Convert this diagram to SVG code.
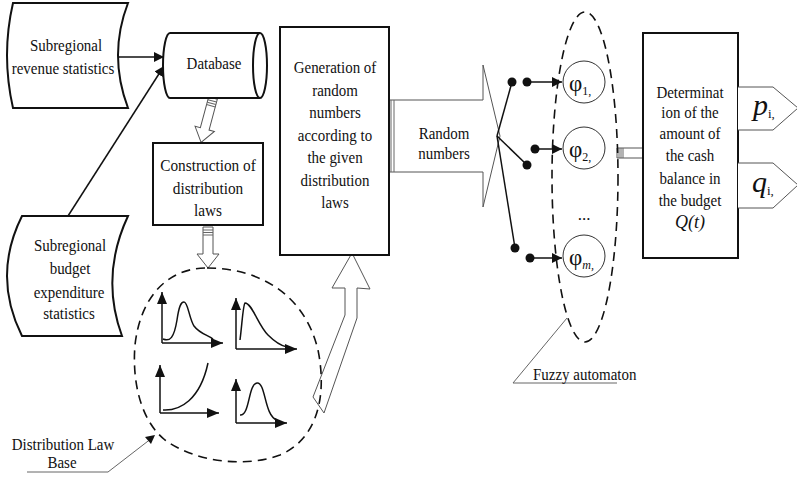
<svg xmlns="http://www.w3.org/2000/svg" width="797" height="477" viewBox="0 0 797 477">
<defs>
<style>
.t{font-family:'Liberation Serif','Times New Roman',serif;font-size:17px;fill:#111;text-anchor:middle}
.s{font-family:'Liberation Serif','Times New Roman',serif;fill:#111}
.box{fill:#fff;stroke:#111;stroke-width:2}
.hol{fill:#fff;stroke:#555;stroke-width:1}
.ln{fill:none;stroke:#111;stroke-width:1.5}
.gr{fill:none;stroke:#666;stroke-width:1}
.dash{fill:none;stroke:#111;stroke-width:1.6;stroke-dasharray:9 6}
.crv{fill:none;stroke:#111;stroke-width:1.5}
</style>
<marker id="ah" viewBox="0 0 10 10" refX="10" refY="5" markerWidth="10" markerHeight="10" markerUnits="userSpaceOnUse" orient="auto"><path d="M0,0 L10,5 L0,10 Z" fill="#111"/></marker>
<marker id="ax" viewBox="0 0 12 10" refX="12" refY="5" markerWidth="12" markerHeight="10" markerUnits="userSpaceOnUse" orient="auto"><path d="M0,0 L12,5 L0,10 Z" fill="#111"/></marker>
</defs>
<rect width="797" height="477" fill="#fff"/>

<g id="connectors">
<line class="ln" x1="118" y1="57" x2="164" y2="57" marker-end="url(#ah)"/>
<line class="ln" x1="68" y1="216" x2="164" y2="66" marker-end="url(#ah)"/>
<g transform="translate(213,98) rotate(15)">
<path class="hol" d="M-4.5,0 L4.5,0 L4.5,32 L10,32 L0,46 L-10,32 L-4.5,32 Z"/>
<path d="M-4.5,3 H4.5 M-4.5,5.5 H4.5 M-4.5,8 H4.5" stroke="#666" stroke-width="1"/>
</g>
<g transform="translate(208,227)">
<path class="hol" d="M-5,0 L5,0 L5,27 L11,27 L0,41 L-11,27 L-5,27 Z"/>
<path d="M-5,3 H5 M-5,5.5 H5 M-5,8 H5" stroke="#666" stroke-width="1"/>
</g>
<path class="hol" d="M352,253 L370,289 L357,288 L357,318 L324,413 L313,397 L345,315 L345,288 L332,288 Z"/>
<path class="hol" d="M389,100 L483,100 L483,65 L500,136 L483,207 L483,172 L389,172 Z"/>
<path d="M391,100 V172 M394,100 V172" stroke="#666" stroke-width="1"/>
<line class="ln" x1="497" y1="136" x2="512" y2="82"/>
<line class="ln" x1="497" y1="136" x2="527" y2="165"/>
<line class="ln" x1="497" y1="136" x2="515" y2="248"/>
<circle cx="512" cy="82" r="4.5" fill="#111"/>
<circle cx="527" cy="165" r="4.5" fill="#111"/>
<circle cx="515" cy="248" r="4.5" fill="#111"/>
<circle cx="527" cy="82" r="4.5" fill="#111"/>
<circle cx="535" cy="149" r="4.5" fill="#111"/>
<circle cx="530" cy="258" r="4.5" fill="#111"/>
<line class="ln" x1="527" y1="82" x2="562" y2="82" marker-end="url(#ah)"/>
<line class="ln" x1="535" y1="149" x2="562" y2="149" marker-end="url(#ah)"/>
<line class="ln" x1="530" y1="258" x2="562" y2="258" marker-end="url(#ah)"/>
<path class="hol" d="M617,148 L645,148 L645,142 L657,153 L645,165 L645,158 L617,158 Z"/>
<path d="M619,148 V158 M621,148 V158 M623,148 V158" stroke="#666" stroke-width="1"/>
<polyline class="gr" points="567,318 513,383 617,383"/>
<polyline class="gr" points="27,472 108,472 152,438"/>
<path d="M155,435 L145,437 L151,444 Z" fill="#111"/>
</g>

<g id="revenue">
<path class="box" d="M13,3 L128,3 Q108,55 128,108 L13,108 Q1,55 13,3 Z"/>
<text class="t" transform="translate(66,51) scale(0.88,1)">Subregional</text>
<text class="t" transform="translate(63,74) scale(0.88,1)">revenue statistics</text>
</g>

<g id="database">
<path class="box" d="M170,33 L260,33 A7,32.5 0 0 1 260,98 L170,98 A7,32.5 0 0 1 170,33 Z"/>
<path d="M260,33 A7,32.5 0 0 0 260,98" fill="none" stroke="#111" stroke-width="2"/>
<text class="t" transform="translate(214,69) scale(0.88,1)">Database</text>
</g>

<g id="budget">
<path class="box" d="M22,216 L128,216 Q100,276 122,336 L22,336 Q-8,276 22,216 Z"/>
<text class="t" transform="translate(70,251) scale(0.88,1)">Subregional</text>
<text class="t" transform="translate(70,274) scale(0.88,1)">budget</text>
<text class="t" transform="translate(69,298) scale(0.88,1)">expenditure</text>
<text class="t" transform="translate(69,319) scale(0.88,1)">statistics</text>
</g>

<g id="construction">
<rect class="box" x="153" y="143" width="110" height="82"/>
<text class="t" transform="translate(208,171) scale(0.9,1)">Construction of</text>
<text class="t" transform="translate(208,194) scale(0.9,1)">distribution</text>
<text class="t" transform="translate(208,216) scale(0.9,1)">laws</text>
</g>

<g id="lawbase">
<path class="dash" d="M207,268 C260,268 305,295 318,350 C328,400 315,440 280,455 C245,468 195,462 165,440 C140,420 132,380 135,345 C140,300 165,268 207,268 Z"/>
<g class="ln">
<line x1="162" y1="343" x2="162" y2="292" marker-end="url(#ax)"/>
<line x1="162" y1="343" x2="223" y2="343" marker-end="url(#ax)"/>
<line x1="236" y1="349" x2="236" y2="298" marker-end="url(#ax)"/>
<line x1="236" y1="349" x2="297" y2="349" marker-end="url(#ax)"/>
<line x1="160" y1="413" x2="160" y2="365" marker-end="url(#ax)"/>
<line x1="160" y1="413" x2="219" y2="413" marker-end="url(#ax)"/>
<line x1="236" y1="423" x2="236" y2="379" marker-end="url(#ax)"/>
<line x1="236" y1="423" x2="287" y2="423" marker-end="url(#ax)"/>
</g>
<path class="crv" d="M163,339 C170,342 174,338 177,320 C179,306 181,302 184,302 C188,302 189,318 194,326 C200,334 208,335 213,339"/>
<path class="crv" d="M240,340 C242,325 243,305 245,303 C252,303 258,325 268,335 C276,343 282,346 287,347"/>
<path class="crv" d="M163,410 C180,411 200,400 208,363"/>
<path class="crv" d="M240,415 C250,416 248,384 257,383 C266,382 264,416 277,420"/>
</g>

<g id="generation">
<rect class="box" x="280" y="27" width="109" height="228"/>
<text class="t" transform="translate(335,73) scale(0.88,1)">Generation of</text>
<text class="t" transform="translate(335,96) scale(0.88,1)">random</text>
<text class="t" transform="translate(335,118) scale(0.88,1)">numbers</text>
<text class="t" transform="translate(335,141) scale(0.88,1)">according to</text>
<text class="t" transform="translate(335,163) scale(0.88,1)">the given</text>
<text class="t" transform="translate(335,186) scale(0.88,1)">distribution</text>
<text class="t" transform="translate(335,208) scale(0.88,1)">laws</text>
</g>

<g id="random">
<text class="t" transform="translate(444,139) scale(0.88,1)">Random</text>
<text class="t" transform="translate(444,159) scale(0.88,1)">numbers</text>
</g>

<g id="fuzzy">
<ellipse class="dash" cx="585" cy="177" rx="33" ry="165"/>
<circle cx="584" cy="82" r="21" fill="#fff" stroke="#333" stroke-width="1"/>
<circle cx="584" cy="148" r="21" fill="#fff" stroke="#333" stroke-width="1"/>
<circle cx="584" cy="256" r="21" fill="#fff" stroke="#333" stroke-width="1"/>
<text class="s" x="569" y="91" font-size="23">φ<tspan font-size="12" dy="4">1,</tspan></text>
<text class="s" x="569" y="157" font-size="23">φ<tspan font-size="12" dy="4">2,</tspan></text>
<text class="s" x="569" y="265" font-size="23">φ<tspan font-size="12" font-style="italic" dy="4">m,</tspan></text>
<text class="t" x="584" y="220">...</text>
<text class="t" transform="translate(533,380) scale(0.88,1)" style="text-anchor:start">Fuzzy automaton</text>
</g>

<g id="determination">
<rect class="box" x="643" y="33" width="95" height="225"/>
<text class="t" transform="translate(690,98) scale(0.88,1)">Determinat</text>
<text class="t" transform="translate(690,118) scale(0.88,1)">ion of the</text>
<text class="t" transform="translate(690,139) scale(0.88,1)">amount of</text>
<text class="t" transform="translate(690,161) scale(0.88,1)">the cash</text>
<text class="t" transform="translate(690,184) scale(0.88,1)">balance in</text>
<text class="t" transform="translate(690,206) scale(0.88,1)">the budget</text>
<text class="t" transform="translate(690,228) scale(0.95,1)" style="font-style:italic;font-size:19px">Q(t)</text>
</g>

<g id="outputs">
<path class="hol" d="M738,87 L773,87 L798,108 L773,130 L738,130"/>
<path class="hol" d="M738,163 L773,163 L798,185 L773,208 L738,208"/>
<text class="s" x="753" y="115" font-size="30" font-style="italic">p<tspan font-size="13" font-style="normal" dy="3">i,</tspan></text>
<text class="s" x="752" y="192" font-size="30" font-style="italic">q<tspan font-size="13" font-style="normal" dy="3">i,</tspan></text>
</g>

<g id="lawlabel">
<text class="t" transform="translate(63,450) scale(0.88,1)">Distribution Law</text>
<text class="t" transform="translate(62,468) scale(0.88,1)">Base</text>
</g>
</svg>
